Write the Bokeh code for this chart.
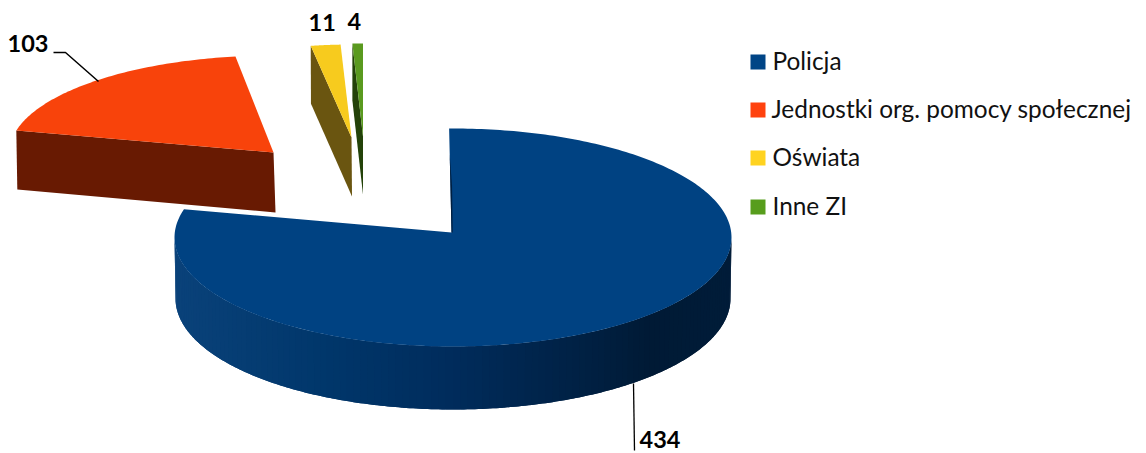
import numpy as np
from bokeh.embed import file_html
from bokeh.resources import INLINE
from bokeh.plotting import figure
from bokeh.models import Range1d
from bokeh.core.properties import value

categories = ["Policja", "Jednostki org. pomocy społecznej", "Oświata", "Inne ZI"]
values = [434, 103, 11, 4]
top_colors = ["#004282", "#f8430b", "#f7cb1e", "#5a9a1f"]
side_colors = ["#002c5c", "#681a02", "#6a5510", "#234209"]
legend_colors = ["#004586", "#ff420e", "#ffd320", "#579d1c"]

FONT = value("Lato")
W, H = 1146, 453
p = figure(width=W, height=H, output_backend="svg", toolbar_location=None,
           x_range=Range1d(0, W), y_range=Range1d(H, 0), min_border=0)
p.xaxis.visible = False
p.yaxis.visible = False
p.grid.visible = False
p.outline_line_color = None
p.background_fill_color = None
p.border_fill_color = "white"

fr = np.cumsum([0] + values) / sum(values) * 360.0
starts, ends = fr[:-1], fr[1:]


def rim(t_deg, c, rx, ry):
    t = np.radians(t_deg)
    return c[0] + rx * np.sin(t), c[1] - ry * np.cos(t)


# --- main slice: wall with horizontal gradient, then top face
main_c = (452.5, 237.0)
main_rx, main_ry = 278.5, 109.0
wall_c = (452.5, 298.0)
wall_rx, wall_ry = 277.5, 111.0
vertex = (451.0, 232.0)
grad_x = [174, 330, 450, 600, 650, 731]
grad_rgb = np.array([[10, 66, 122], [0, 54, 106], [0, 44, 92], [0, 31, 64], [0, 26, 53], [0, 28, 57]])


def warp(t):
    return t * 285.8 / ends[0] - 0.8


step = 1.5
for a in np.arange(270, 90, -step):
    ts = np.linspace(a - 2 * step, a, 5)
    ts = np.clip(ts, 90, 270)
    x1, y1 = rim(ts, main_c, main_rx, main_ry)
    x2, y2 = rim(ts[::-1], wall_c, wall_rx, wall_ry)
    xm = float(rim(a - step / 2, main_c, main_rx, main_ry)[0])
    rgb = [int(round(np.interp(xm, grad_x, grad_rgb[:, i]))) for i in range(3)]
    col = "#%02x%02x%02x" % tuple(rgb)
    p.patch(np.r_[x1, x2], np.r_[y1, y2], fill_color=col, line_color=None)

ts = np.linspace(warp(starts[0]), warp(ends[0]), 300)
x, y = rim(ts, main_c, main_rx, main_ry)
p.patch(np.r_[vertex[0], x], np.r_[vertex[1], y], fill_color=top_colors[0], line_color=None)
# thin inner wall visible next to the cut
sx, sy = rim(warp(starts[0]), main_c, main_rx, main_ry)
fs = np.array([0.25, 1.0])
p.patch(np.r_[sx + (vertex[0] - sx) * fs, vertex[0] + 1.2, sx + (vertex[0] - sx) * 0.55 + 1.6],
        np.r_[sy + (vertex[1] - sy) * fs, vertex[1], sy + (vertex[1] - sy) * 0.55],
        fill_color="#001f40", line_color=None)

# --- exploded slices: vertex, radii, depth, rim angle corrections
layout = [
    None,
    dict(c=(273.0, 152.0), rx=264.0, ry=97.0, depth=59.0, dx=2.0, d0=0.0, d1=1.5),
    dict(c=(351.0, 137.0), rx=240.0, ry=93.0, depth=58.0, dx=0.5, d0=0.0, d1=0.0),
    dict(c=(362.5, 136.0), rx=233.0, ry=93.0, depth=57.0, dx=0.0, d0=0.0, d1=0.0),
]
for i in (1, 2, 3):
    L = layout[i]
    ts = np.linspace(starts[i] + L["d0"], ends[i] + L["d1"], 80)
    x, y = rim(ts, L["c"], L["rx"], L["ry"])
    # cut wall: from rim start to the vertex, extruded downwards
    wx = [x[0], L["c"][0], L["c"][0] + L["dx"], x[0] + L["dx"] / 2]
    wy = [y[0], L["c"][1], L["c"][1] + L["depth"] + 1, y[0] + L["depth"]]
    p.patch(wx, wy, fill_color=side_colors[i], line_color=None)
    p.patch(np.r_[L["c"][0], x], np.r_[L["c"][1], y], fill_color=top_colors[i], line_color=None)

# --- leader lines
p.line([53, 65, 98], [52, 52, 81], line_color="black", line_width=1.5)
p.line([633, 634], [383, 450], line_color="black", line_width=1.3)

# --- data labels
label_pos = [(639, 439), (7, 43), (308, 22), (347, 21)]
for v, (lx, ly) in zip(values, label_pos):
    p.text([lx], [ly], text=[str(v)], text_font=FONT, text_font_style="bold",
           text_font_size="23.5px", text_color="black", text_align="left", text_baseline="middle")

# --- legend
leg_y = [61.5, 109.5, 157.5, 206.5]
leg_text_x = [772, 771, 772, 772]
for name, col, ly, tx in zip(categories, legend_colors, leg_y, leg_text_x):
    p.quad(left=750, right=765, top=ly - 7.5, bottom=ly + 7.5, fill_color=col, line_color=None)
    p.text([tx], [ly - 1.5], text=[name], text_font=FONT, text_font_size="24.4px",
           text_color="#111111", text_align="left", text_baseline="middle")

open("out.html", "w").write(file_html(p, INLINE))
